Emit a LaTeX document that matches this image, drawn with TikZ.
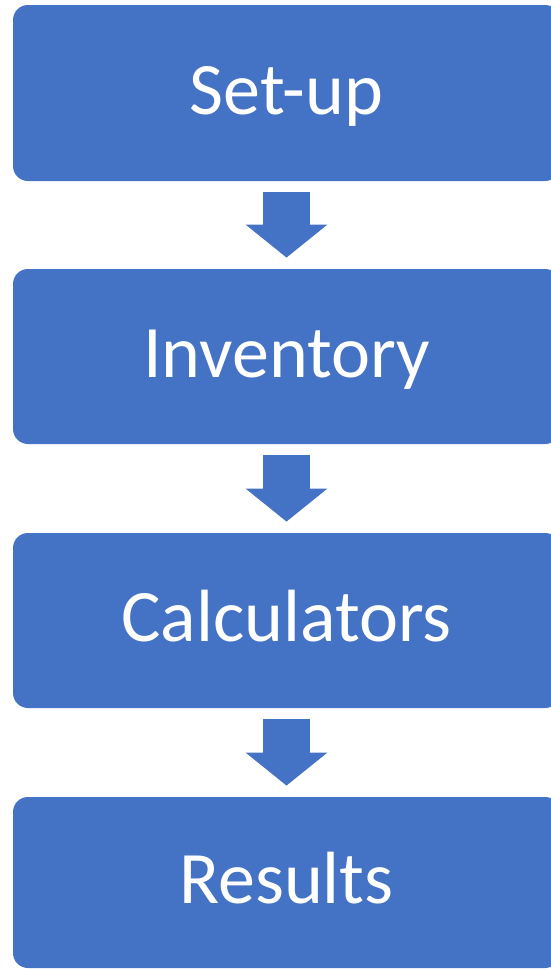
\documentclass[tikz,border=0pt]{standalone}
\usepackage{fontspec}
\setmainfont{Carlito}
\usetikzlibrary{arrows.meta}
\definecolor{boxblue}{HTML}{4472C4}
\tikzset{
  stagebox/.style={fill=boxblue, text=white, rounded corners=7.5pt,
    minimum width=273.5pt, minimum height=87.5pt, inner sep=0pt,
    text height=27pt, text depth=6pt,
    font=\fontsize{37}{44}\selectfont},
  flowarrow/.style={draw=boxblue, line width=23.5pt,
    -{Triangle[length=16.5pt, width=40pt]},
    shorten <=5.5pt, shorten >=5.5pt}
}
\begin{document}
\begin{tikzpicture}[x=0.5pt, y=-0.5pt]
  \useasboundingbox (0,0) rectangle (551,969);
  \begin{scope}
    \clip (0,0) rectangle (551,969);
    \node[stagebox, minimum height=88pt] (setup) at (286.5,93) {Set-up};
    \node[stagebox] (inventory) at (286.5,356.5) {Inventory};
    \node[stagebox] (calculators) at (286.5,620.5) {Calculators};
    \node[stagebox, minimum height=85.5pt] (results) at (286.5,882.5) {Results};
  \end{scope}
  \begin{scope}[flowarrow]
    \draw (setup) to (inventory);
    \draw (inventory) to (calculators);
    \draw (calculators) to (results);
  \end{scope}
\end{tikzpicture}
\end{document}
